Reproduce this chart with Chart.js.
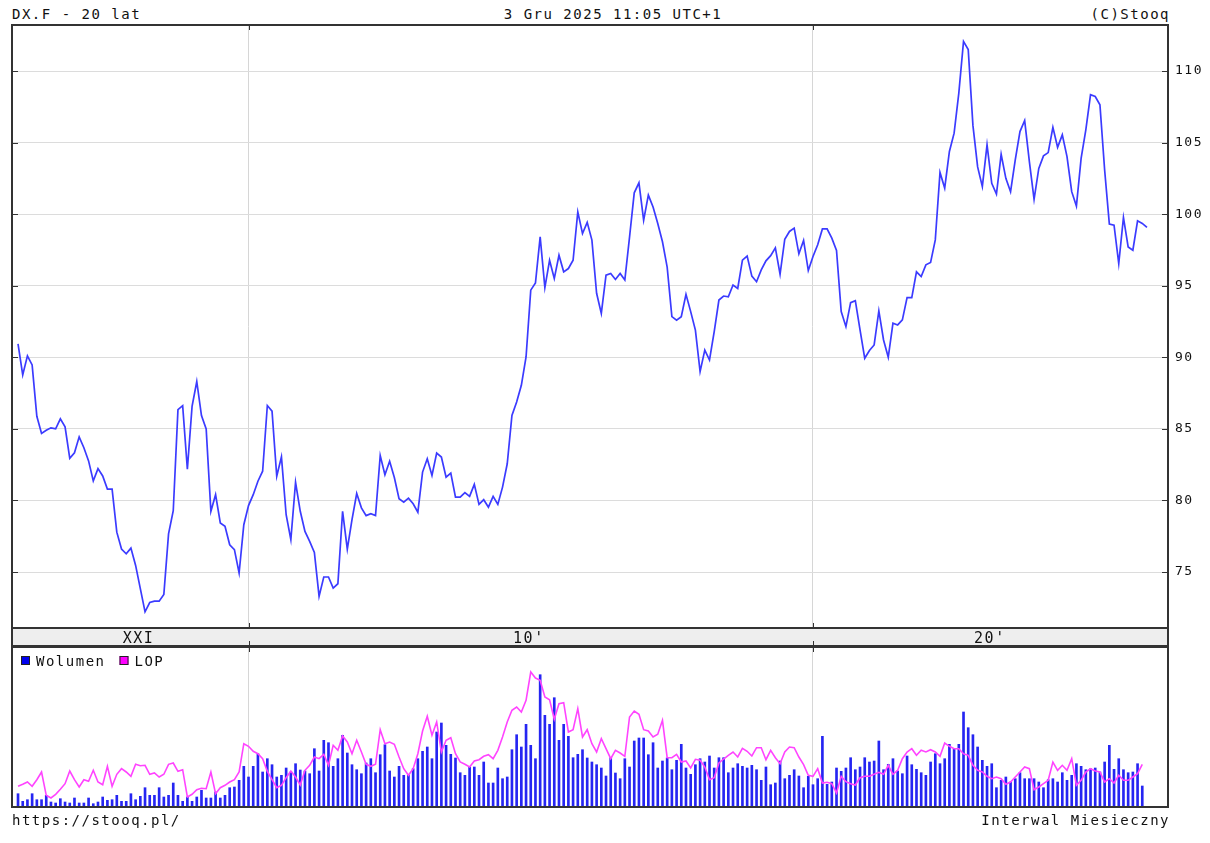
<!DOCTYPE html>
<html>
<head>
<meta charset="utf-8">
<script src="https://cdn.jsdelivr.net/npm/chart.js@4.4.0/dist/chart.umd.min.js"></script>
<style>
  body { margin: 0; background: #fff; width: 1210px; height: 843px; position: relative; overflow: hidden;
         font-family: 'DejaVu Sans Mono', monospace; font-size: 14px; letter-spacing: 1.5px; color: #111; }
  .t { position: absolute; white-space: nowrap; line-height: 17px; }
  canvas { position: absolute; left: 0; }
</style>
</head>
<body>
<div class="t" style="left:12px;top:6px">DX.F - 20 lat</div>
<div class="t" style="left:8px;width:1210px;top:6px;text-align:center">3 Gru 2025 11:05 UTC+1</div>
<div class="t" style="right:40px;top:6px">(C)Stooq</div>
<canvas id="price" width="1210" height="646" style="top:0"></canvas>
<canvas id="vol" width="1210" height="197" style="top:646px"></canvas>
<div class="t" style="left:12px;top:812px">https://stooq.pl/</div>
<div class="t" style="right:40px;top:812px">Interwal Miesieczny</div>

<script>
// monthly closes, Dec 2005 .. Dec 2025
const price = [
  90.93, 88.77, 90.1, 89.47, 85.88, 84.68, 84.9, 85.07, 85.0, 85.7, 85.14, 82.94,
  83.33, 84.44, 83.68, 82.76, 81.37, 82.22, 81.71, 80.79, 80.79, 77.78, 76.6, 76.27,
  76.67, 75.46, 73.84, 72.22, 72.87, 72.96, 72.96, 73.43, 77.66, 79.28, 86.34, 86.62,
  82.18, 86.57, 88.31, 85.93, 85.0, 79.24, 80.4, 78.43, 78.2, 76.9, 76.56, 74.93,
  78.3, 79.64, 80.4, 81.34, 82.04, 86.63, 86.24, 81.69, 83.04, 79.0, 77.26, 81.27,
  79.24, 77.84, 77.14, 76.37, 73.3, 74.65, 74.65, 73.88, 74.18, 79.24, 76.6, 78.66,
  80.48, 79.48, 78.94, 79.08, 78.94, 83.14, 81.8, 82.74, 81.6, 80.12, 79.88, 80.16,
  79.77, 79.18, 81.98, 82.91, 81.75, 83.31, 83.03, 81.63, 81.91, 80.23, 80.23, 80.54,
  80.28, 81.12, 79.72, 80.05, 79.53, 80.28, 79.72, 80.93, 82.56, 85.94, 86.88, 88.04,
  90.02, 94.69, 95.2, 98.41, 94.87, 96.78, 95.5, 97.13, 95.97, 96.2, 96.78, 100.16,
  98.65, 99.43, 98.19, 94.47, 93.07, 95.74, 95.86, 95.44, 95.86, 95.4, 98.4, 101.49,
  102.19, 99.58, 101.33, 100.5, 99.35, 98.07, 96.3, 92.84, 92.6, 92.84, 94.4, 93.19,
  91.9, 89.0, 90.5, 89.81, 91.8, 94.0, 94.28, 94.23, 95.05, 94.81, 96.79, 97.07,
  95.67, 95.28, 96.1, 96.74, 97.1, 97.65, 95.8, 98.25, 98.79, 99.02, 97.23, 98.16,
  96.06, 97.04, 97.86, 98.97, 98.97, 98.32, 97.46, 93.19, 92.14, 93.82, 93.96, 91.91,
  89.93, 90.47, 90.86, 93.24, 91.21, 90.0, 92.38, 92.26, 92.61, 94.17, 94.17, 95.97,
  95.64, 96.46, 96.62, 98.2, 102.91, 101.82, 104.38, 105.66, 108.46, 112.07, 111.5, 106.2,
  103.3, 101.92, 104.84, 102.15, 101.4, 104.18, 102.5, 101.57, 103.79, 105.77, 106.54, 103.67,
  101.03, 103.2, 104.07, 104.3, 106.07, 104.67, 105.54, 104.02, 101.57, 100.56, 103.9, 105.89,
  108.34, 108.22, 107.64, 103.08, 99.3, 99.23, 96.54, 99.77, 97.71, 97.48, 99.53, 99.35,
  99.07
];

// volume and open interest (relative units, no scale on the chart)
const volume = [
  13.3, 5.7, 7.3, 13.3, 7.3, 7.3, 11.7, 5, 4, 8.3, 5, 4,
  9, 4, 4, 9, 3.3, 5, 10, 6.7, 7.3, 11.7, 5.7, 5.7,
  13.3, 7.3, 10.7, 19.3, 11.7, 11.7, 19.3, 10, 11.7, 24, 11.7, 5.7,
  10, 5.7, 10, 16.7, 9, 9, 15, 9, 11.7, 19.3, 20, 26.7,
  40.7, 30, 40.7, 53.3, 35, 48.3, 42.3, 30, 31.7, 39, 35, 43.3,
  37, 36, 33.3, 58.3, 36, 66.7, 64.3, 40.7, 48.3, 71.7, 54, 42.3,
  37.3, 33.3, 44, 48.3, 34.3, 52.3, 62.3, 36, 30, 40.7, 31.7, 31.7,
  38.3, 48.3, 55.7, 60, 48.3, 75, 84, 61.7, 52.7, 49, 34.3, 31.7,
  40, 40, 31.7, 45, 24, 24, 39, 28.3, 30, 57.3, 72.3, 60,
  82.7, 61.7, 48.3, 132.3, 91.7, 82.7, 109.3, 66.7, 82.7, 70.7, 49.3, 52.7,
  57.3, 49, 45, 42.3, 39, 31, 49.3, 34, 28.3, 48.3, 40, 66,
  69, 69, 52.3, 64.3, 39, 46, 49, 37.3, 46.7, 62.7, 39, 32.7,
  42.3, 48.3, 45, 51, 39, 49.3, 49.3, 34.3, 39, 43.3, 40.7, 39,
  41.7, 37.3, 26.7, 40, 22.3, 24, 46, 28.3, 31.7, 37.3, 31, 19.3,
  30.7, 22.3, 28.3, 70.7, 22.7, 25, 39, 35.7, 39, 49.3, 37.3, 40,
  49.3, 45, 46, 66, 37.3, 42.7, 48.3, 36, 33.3, 51, 42.3, 37.7,
  34.3, 31.7, 45, 53.3, 43.3, 48.3, 62.7, 58.3, 62.7, 95, 79.3, 72.3,
  60, 46.7, 40.7, 43.3, 19.3, 26.7, 30, 25, 28.3, 34.3, 28.3, 28.3,
  28.3, 25, 19.3, 27.3, 28.3, 25, 34.3, 26.7, 31.7, 43.3, 40.7, 37.3,
  38.3, 39, 35, 45, 61.7, 37.7, 48.3, 37.3, 34.3, 35, 43.3, 21,
  null
];

const lop = [
  20.7, 22.7, 25, 20.7, 27.3, 35, 11.7, 9, 12.7, 17.7, 23.3, 36,
  27.3, 20, 27.3, 25.7, 36.7, 25, 22.3, 40.7, 20.7, 32.7, 38.3, 35,
  30.7, 42.7, 41.3, 41.7, 32.7, 34, 30, 32.7, 42.7, 44, 35.7, 37.3,
  10, 12.7, 17.3, 18.7, 18.3, 35, 13.3, 19.3, 21.7, 25, 27.3, 35,
  63.3, 60.7, 55.7, 53.3, 48.3, 35.7, 27.3, 19.3, 21.7, 29.3, 36, 30,
  22, 36.7, 41.7, 50, 48.3, 52.7, 41.7, 61.7, 56.7, 71, 65, 53.3,
  66.7, 55, 42.7, 40.7, 42.7, 77.3, 63.3, 65, 62.7, 50, 38.3, 31.7,
  38.3, 53.3, 76, 90.7, 71.7, 85, 55, 66.7, 69.3, 53.3, 45, 42.7,
  40, 46, 47.3, 50.7, 52.3, 48.3, 56.7, 70, 85, 96.7, 100, 95,
  106.7, 135, 129, 126.7, 110, 107.3, 87.7, 103.3, 104.3, 75, 77.3, 98.3,
  70, 77.3, 63.3, 55, 68.3, 58.3, 48.3, 56.7, 54, 50.7, 90, 96,
  92.7, 77.3, 76, 70, 72.7, 86.7, 49.3, 49.3, 52.7, 45, 46, 39,
  47.7, 46.7, 40, 27.3, 29.3, 44, 48, 51.7, 55, 50, 58.7, 55.7,
  51, 59.3, 59.3, 47.3, 56.7, 49.3, 43.3, 55, 60, 59.3, 50, 42.3,
  31.7, 30.7, 38.3, 24, 24.7, 23.3, 14, 30.7, 25.3, 23.3, 22, 29.3,
  30.7, 30.7, 32.7, 34.7, 32.7, 41.7, 32.7, 36.7, 48.3, 55, 58.3, 51.7,
  56.7, 55, 57.3, 55, 50.7, 64, 60.7, 58.3, 58.3, 53.3, 51.7, 41.7,
  36.7, 35, 30.7, 28.3, 30, 28.3, 22.7, 25, 30, 35, 40, 38.3,
  17.3, 20, 23.3, 26.7, 45, 36.7, 41.7, 36.7, 48.3, 21.7, 26.7, 35,
  38.3, 36, 35, 25, 28.3, 24, 31.7, 26.7, 26.7, 30, 33.3, 42.7,
  null
];

const priceTicks = [75, 80, 85, 90, 95, 100, 105, 110];
const decadeLines = [49, 169];              // Jan 2010, Jan 2020 (month index)
const decadeLabels = ['XXI', "10'", "20'"];
const decadeLabelAt = [25.6, 108.6, 206.6];

const FAMILY = "'DejaVu Sans Mono', monospace";
const INK = '#333';
const X_MIN = -1.28, X_MAX = 244.47;

const pts = arr => arr.map((v, i) => ({ x: i, y: v }));

function line(ctx, x1, y1, x2, y2) {
  ctx.beginPath(); ctx.moveTo(x1, y1); ctx.lineTo(x2, y2); ctx.stroke();
}

const pricePanel = {
  id: 'pricePanel',
  beforeDraw(chart) {
    const { ctx, chartArea: a } = chart;
    ctx.save();
    ctx.fillStyle = '#eeeeee';
    ctx.fillRect(a.left, a.bottom, a.right - a.left, 18);
    ctx.restore();
  },
  afterDraw(chart) {
    const { ctx, chartArea: a, scales: { x, y } } = chart;
    ctx.save();
    ctx.strokeStyle = INK;
    ctx.lineWidth = 1;
    priceTicks.forEach(v => {
      const py = Math.round(y.getPixelForValue(v)) + 0.5;
      line(ctx, a.left, py, a.left + 6, py);
      line(ctx, a.right - 6, py, a.right, py);
    });
    decadeLines.forEach(i => {
      const px = Math.round(x.getPixelForValue(i)) + 0.5;
      line(ctx, px, a.top, px, a.top + 5);
      line(ctx, px, a.bottom - 5, px, a.bottom);
      line(ctx, px, a.bottom + 13, px, a.bottom + 18);
    });
    ctx.lineWidth = 2;
    ctx.strokeRect(a.left, a.top, a.right - a.left, a.bottom - a.top);
    ctx.strokeRect(a.left, a.bottom, a.right - a.left, 18);
    ctx.restore();
  }
};

const volPanel = {
  id: 'volPanel',
  afterDraw(chart) {
    const { ctx, chartArea: a, scales: { x } } = chart;
    ctx.save();
    ctx.strokeStyle = INK;
    ctx.lineWidth = 1;
    decadeLines.forEach(i => {
      const px = Math.round(x.getPixelForValue(i)) + 0.5;
      line(ctx, px, a.top, px, a.top + 5);
    });
    ctx.lineWidth = 2;
    ctx.strokeRect(a.left, a.top, a.right - a.left, a.bottom - a.top);
    // legend
    ctx.font = `14px ${FAMILY}`;
    ctx.letterSpacing = '1.5px';
    ctx.textBaseline = 'middle';
    ctx.lineWidth = 1;
    let lx = a.left + 9;
    const ly = a.top + 14;
    chart.data.datasets.slice().reverse().forEach(ds => {
      ctx.fillStyle = ds.legendColor;
      ctx.fillRect(lx, ly - 5, 9, 9);
      ctx.strokeStyle = '#222';
      ctx.strokeRect(lx + 0.5, ly - 4.5, 8, 8);
      ctx.fillStyle = '#111';
      ctx.fillText(ds.label, lx + 15, ly + 1);
      lx += 15 + ctx.measureText(ds.label).width + 14;
    });
    ctx.restore();
  }
};

const gridColor = c => (c.tick && decadeLines.includes(c.tick.value)) ? '#d6d6d6' : 'rgba(0,0,0,0)';

new Chart(document.getElementById('price'), {
  type: 'line',
  data: {
    datasets: [{
      label: 'DX.F',
      data: pts(price),
      borderColor: '#3b3bff',
      borderWidth: 1.7,
      pointRadius: 0,
      tension: 0
    }]
  },
  options: {
    responsive: false,
    animation: false,
    layout: { padding: { left: 12, top: 25, right: 0, bottom: 0 } },
    plugins: { legend: { display: false }, tooltip: { enabled: false } },
    scales: {
      x: {
        type: 'linear', min: X_MIN, max: X_MAX,
        border: { display: false },
        grid: { drawTicks: false, color: gridColor },
        afterBuildTicks: s => {
          s.ticks = [...decadeLines, ...decadeLabelAt].map(v => ({ value: v }));
        },
        ticks: {
          autoSkip: false, maxRotation: 0, padding: 2,
          font: { family: FAMILY, size: 15 }, color: '#111',
          callback: v => {
            const k = decadeLabelAt.indexOf(v);
            return k >= 0 ? decadeLabels[k] : '';
          }
        },
        afterFit: s => { s.height = 18; }
      },
      y: {
        position: 'right',
        min: 71.088, max: 113.214,
        afterBuildTicks: s => { s.ticks = priceTicks.map(v => ({ value: v })); },
        border: { display: false },
        grid: { color: '#dcdcdc', drawTicks: false },
        ticks: { padding: 7, font: { family: FAMILY, size: 13 }, color: '#111' },
        afterFit: s => { s.width = 42; }
      }
    }
  },
  plugins: [pricePanel]
});

new Chart(document.getElementById('vol'), {
  type: 'bar',
  data: {
    datasets: [
      {
        type: 'line',
        label: 'LOP',
        data: pts(lop),
        borderColor: '#ff44ff',
        borderWidth: 1.6,
        pointRadius: 0,
        tension: 0,
        order: 1,
        legendColor: '#ff00ff'
      },
      {
        type: 'bar',
        label: 'Wolumen',
        data: pts(volume),
        backgroundColor: '#2525f2',
        barThickness: 2,
        order: 2,
        legendColor: '#0000ee'
      }
    ]
  },
  options: {
    responsive: false,
    animation: false,
    layout: { padding: { left: 12, top: 1, right: 42, bottom: 36 } },
    plugins: { legend: { display: false }, tooltip: { enabled: false } },
    scales: {
      x: {
        type: 'linear', min: X_MIN, max: X_MAX, offset: false,
        border: { display: false },
        grid: { drawTicks: false, offset: false, color: gridColor },
        afterBuildTicks: s => { s.ticks = decadeLines.map(v => ({ value: v })); },
        ticks: { display: true, callback: () => '', padding: 0 },
        afterFit: s => { s.height = 0; }
      },
      y: { display: false, min: 0, max: 160 }
    }
  },
  plugins: [volPanel]
});
</script>
</body>
</html>
